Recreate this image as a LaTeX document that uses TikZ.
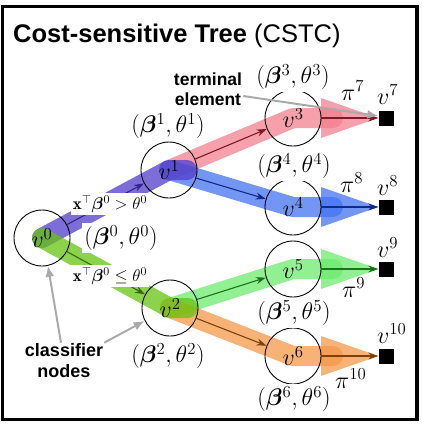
\RequirePackage{fix-cm}
\documentclass[tikz,border=0pt]{standalone}
\usepackage{amsmath,bm}
\usepackage{fontspec}
\newfontfamily\sansf{Liberation Sans}
\usetikzlibrary{arrows.meta,calc}
\definecolor{bpurple}{RGB}{82,61,202}
\definecolor{bgreenA}{RGB}{102,195,15}
\definecolor{bred}{RGB}{242,128,142}
\definecolor{bblue}{RGB}{68,115,242}
\definecolor{bgreenB}{RGB}{108,235,108}
\definecolor{borange}{RGB}{244,152,75}
\definecolor{dpurple}{RGB}{55,35,140}
\definecolor{dgreenA}{RGB}{55,105,15}
\definecolor{dred}{RGB}{125,25,40}
\definecolor{dblue}{RGB}{20,40,135}
\definecolor{dgreenB}{RGB}{25,115,25}
\definecolor{dorange}{RGB}{125,65,10}
\definecolor{garr}{RGB}{170,170,170}
\newcommand{\mfont}{\fontsize{24}{26}\selectfont}
\begin{document}
\begin{tikzpicture}[x=1pt,y=-1pt,
  cnode/.style={circle,draw,line width=0.9pt,minimum size=56pt,inner sep=0pt,font=\mfont},
  term/.style={fill=black,minimum size=15pt,inner sep=0pt},
  band/.style={line width=20pt,line cap=round,line join=round,draw opacity=0.75},
  tri/.style={fill opacity=0.75},
  tarrow/.style={line width=1.1pt,-{Stealth[length=10pt,width=7pt]}},
  garrow/.style={draw=garr,line width=2pt,-{Latex[length=11pt,width=9pt]},color=garr},
  lab/.style={fill=white,inner sep=2pt,font=\mfont},
  mlab/.style={inner sep=0pt,font=\mfont},
  slab/.style={fill=white,inner sep=2pt,font=\fontsize{17}{19}\selectfont},
  stext/.style={font=\sansf\bfseries\fontsize{17.5}{20}\selectfont,align=center,inner sep=1pt}]
\useasboundingbox (0,0) rectangle (422,426);
\draw[line width=3.5pt] (2.5,6.5) rectangle (417,419.5);
% positions
\coordinate (c0) at (42,238);
\coordinate (c1) at (169,170);
\coordinate (c2) at (170,308);
\coordinate (c3) at (293,118);
\coordinate (c4) at (293,207);
\coordinate (c5) at (293,269);
\coordinate (c6) at (293,356);
\node[term] (t7) at (386,118) {};
\node[term] (t8) at (386,207) {};
\node[term] (t9) at (386,269) {};
\node[term] (t10) at (386,356) {};
% bands (children first, parents on top)
\draw[band,bred] (c1) -- (c3) -- ($(c3)+(40,0)$);
\draw[band,bblue] (c1) -- (c4) -- ($(c4)+(40,0)$);
\draw[band,bgreenB] (c2) -- (c5) -- ($(c5)+(40,0)$);
\draw[band,borange] (c2) -- (c6) -- ($(c6)+(40,0)$);
\fill[tri,bred] ($(c3)+(28,-20)$) -- ($(c3)+(28,20)$) -- (t7.west) -- cycle;
\fill[tri,bblue] ($(c4)+(28,-20)$) -- ($(c4)+(28,20)$) -- (t8.west) -- cycle;
\fill[tri,bgreenB] ($(c5)+(28,-20)$) -- ($(c5)+(28,20)$) -- (t9.west) -- cycle;
\fill[tri,borange] ($(c6)+(28,-20)$) -- ($(c6)+(28,20)$) -- (t10.west) -- cycle;
\draw[band,bpurple] (c0) -- (c1) -- ($(c1)+(18,0)$);
\draw[band,bgreenA] (c0) -- (c2) -- ($(c2)+(18,0)$);
% classifier nodes
\node[cnode] (v0) at (c0) {$v^0$};
\node[cnode] (v1) at (c1) {$v^1$};
\node[cnode] (v2) at (c2) {$v^2$};
\node[cnode] (v3) at (c3) {$v^3$};
\node[cnode] (v4) at (c4) {$v^4$};
\node[cnode] (v5) at (c5) {$v^5$};
\node[cnode] (v6) at (c6) {$v^6$};
% thin arrows
\draw[tarrow,dpurple] (v0) -- (v1);
\draw[tarrow,dgreenA] (v0) -- (v2);
\draw[tarrow,dred] (v1) -- (v3);
\draw[tarrow,dblue] (v1) -- (v4);
\draw[tarrow,dgreenB] (v2) -- (v5);
\draw[tarrow,dorange] (v2) -- (v6);
\draw[tarrow,dred] (v3) -- (t7);
\draw[tarrow,dblue] (v4) -- (t8);
\draw[tarrow,dgreenB] (v5) -- (t9);
\draw[tarrow,dorange] (v6) -- (t10);
% labels
\node[lab] (b0) at (121,238) {$(\bm{\beta}^0,\theta^0)$};
\node[lab] (b1) at (168,126) {$(\bm{\beta}^1,\theta^1)$};
\node[lab] (b2) at (168,356) {$(\bm{\beta}^2,\theta^2)$};
\node[lab] (b3) at (293,77) {$(\bm{\beta}^3,\theta^3)$};
\node[lab] (b4) at (294,166) {$(\bm{\beta}^4,\theta^4)$};
\node[lab] (b5) at (294,313) {$(\bm{\beta}^5,\theta^5)$};
\node[lab] (b6) at (294,399) {$(\bm{\beta}^6,\theta^6)$};
\node[slab] (gt) at (110,204) {$\mathbf{x}^{\top}\bm{\beta}^0>\theta^0$};
\node[slab] (le) at (110,276) {$\mathbf{x}^{\top}\bm{\beta}^0\leq\theta^0$};
\node[mlab,anchor=base west] (p7) at (341,100) {$\pi^7$};
\node[mlab,anchor=base west] (p8) at (340,192) {$\pi^8$};
\node[mlab,anchor=base west] (p9) at (342,297) {$\pi^9$};
\node[mlab,anchor=base west] (p10) at (335,388) {$\pi^{10}$};
\node[mlab,anchor=base west] (n7) at (377,104) {$v^7$};
\node[mlab,anchor=base west] (n8) at (377,195) {$v^8$};
\node[mlab,anchor=base west] (n9) at (377,257) {$v^9$};
\node[mlab,anchor=base west] (n10) at (377,343) {$v^{10}$};
% texts
\node[anchor=base west,inner sep=0pt,font=\sansf\fontsize{25.5}{30}\selectfont] (title) at (13,42) {\textbf{Cost-sensitive Tree} (CSTC)};
\node[stext] (te) at (208,89) {terminal\\element};
\node[stext,font=\sansf\bfseries\fontsize{18}{21}\selectfont] (cn) at (64,361) {classifier\\nodes};
% gray arrows
\draw[garrow] ([yshift=-7pt]te.east) -- ([yshift=2pt]t7.west);
\draw[garrow] ([xshift=-3pt]cn.north) -- (v0.-78);
\draw[garrow] (cn.north east) -- (v2.207);
\end{tikzpicture}
\end{document}
